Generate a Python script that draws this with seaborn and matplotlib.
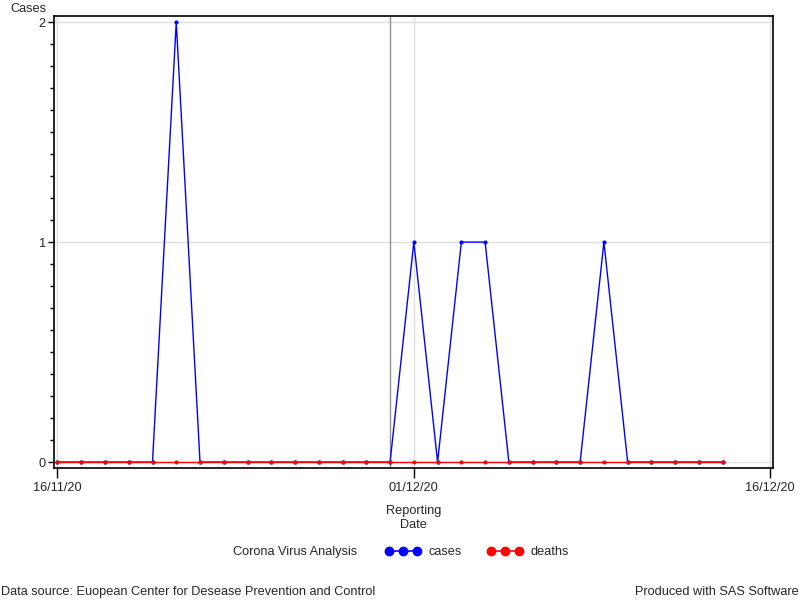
import pandas as pd
import matplotlib.pyplot as plt
import matplotlib.dates as mdates
from matplotlib.lines import Line2D
from matplotlib.ticker import MultipleLocator
import seaborn as sns

# dados (um ponto por dia)
datas = pd.date_range("2020-11-16", "2020-12-14", freq="D")
casos = [0, 0, 0, 0, 0, 2, 0, 0, 0, 0, 0, 0, 0, 0, 0,
         1, 0, 1, 1, 0, 0, 0, 0, 1, 0, 0, 0, 0, 0]
mortes = [0] * 29
ticks_x = pd.to_datetime(["2020-11-16", "2020-12-01", "2020-12-16"])
linha_ref = pd.Timestamp("2020-11-30")

df = pd.DataFrame({"Reporting Date": datas, "cases": casos, "deaths": mortes})

sns.set_theme(style="white")
plt.rcParams["font.family"] = ["Liberation Sans", "DejaVu Sans"]
fs = 9.2

fig = plt.figure(figsize=(8, 6), dpi=100)
ax = fig.add_axes([0.0675, 0.22, 0.899, 0.753])

cores = {"cases": "blue", "deaths": "red"}
# cases primeiro, deaths por cima (como no original)
for i, serie in enumerate(["cases", "deaths"]):
    sns.lineplot(data=df, x="Reporting Date", y=serie, color=cores[serie], marker="o",
                 markersize=3, markeredgewidth=0, linewidth=1, ax=ax)
    ax.lines[-1].set_zorder(3 + i)

ax.axvline(linha_ref, color="#909090", linewidth=1, zorder=2)

ax.set_xlim(ticks_x[0] - pd.Timedelta(hours=3.5), ticks_x[-1] + pd.Timedelta(hours=3))
ax.set_ylim(-0.027, 2.027)
ax.set_xticks(ticks_x)
ax.xaxis.set_major_formatter(mdates.DateFormatter("%d/%m/%y"))
ax.set_yticks([0, 1, 2])
ax.yaxis.set_minor_locator(MultipleLocator(0.1))
ax.grid(True, which="major", color="#e0e0e0", linewidth=1)
ax.set_axisbelow(True)

ax.tick_params(axis="x", which="major", direction="out", length=7, width=1,
               color="black", labelsize=fs, pad=3, bottom=True)
ax.tick_params(axis="y", which="major", direction="out", length=4, width=1,
               color="black", labelsize=fs, pad=2, left=True)
ax.tick_params(axis="y", which="minor", direction="out", length=3, width=1,
               color="black", left=True)
for s in ax.spines.values():
    s.set_color("black")
    s.set_linewidth(1.2)

ax.set_xlabel("Reporting\nDate", fontsize=fs, labelpad=8, linespacing=1.25)
ax.set_ylabel("")
fig.text(0.013, 0.985, "Cases", fontsize=fs, ha="left", va="center")

# legenda
fig.text(233 / 800, 1 - 552 / 600, "Corona Virus Analysis", fontsize=fs, ha="left", va="center")
handles = [Line2D([], [], color=cores[k], marker="o", markersize=6, linewidth=1.2) for k in ["cases", "deaths"]]
fig.legend(handles, ["cases", "deaths"], loc="center left", bbox_to_anchor=(385 / 800, 1 - 552 / 600),
           ncol=2, frameon=False, fontsize=fs, numpoints=3, handlelength=2.8,
           handletextpad=0.6, columnspacing=2.0, borderaxespad=0, borderpad=0)

fig.text(0.001, 1 - 592 / 600, "Data source: Euopean Center for Desease Prevention and Control",
         fontsize=fs, ha="left", va="center")
fig.text(0.998, 1 - 592 / 600, "Produced with SAS Software", fontsize=fs, ha="right", va="center")

plt.savefig("out.png", dpi=100)
